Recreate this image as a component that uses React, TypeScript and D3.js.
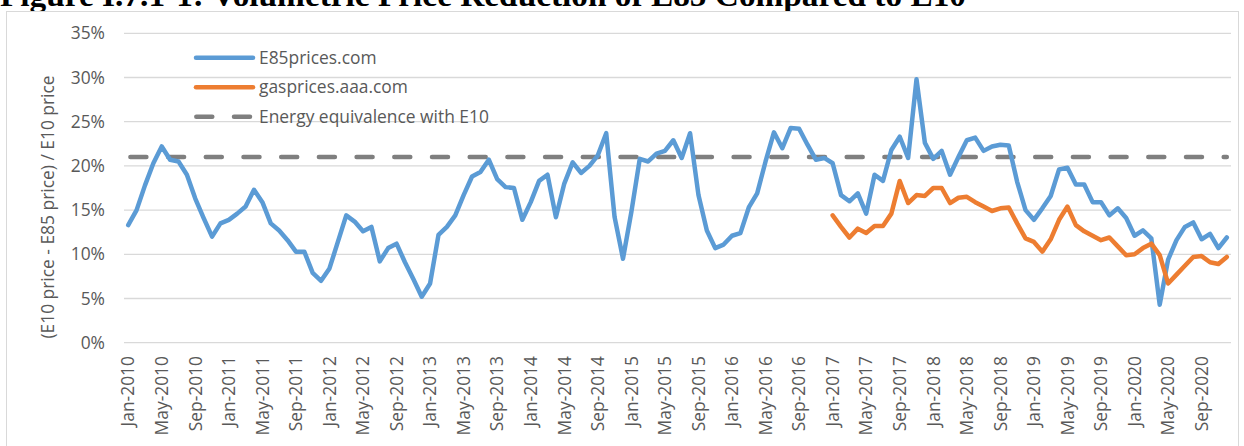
import React, { useEffect, useRef } from "react";
import * as d3 from "d3";

// monthly categories Jan-2010 .. Dec-2020
const months: Date[] = d3.timeMonths(new Date(2010, 0, 1), new Date(2021, 0, 1));

// E85prices.com, % per month from Jan-2010
const e85Values = [
  13.3, 15.0, 17.8, 20.3, 22.2, 20.7, 20.5, 19.0, 16.3, 14.1, 12.0, 13.5,
  13.9, 14.6, 15.4, 17.3, 15.9, 13.5, 12.7, 11.6, 10.3, 10.3, 7.9, 7.0,
  8.4, 11.4, 14.4, 13.7, 12.6, 13.1, 9.2, 10.7, 11.2, 9.1, 7.2, 5.2,
  6.7, 12.2, 13.1, 14.4, 16.7, 18.8, 19.3, 20.7, 18.5, 17.6, 17.5, 13.9,
  15.9, 18.3, 19.0, 14.2, 18.0, 20.4, 19.2, 20.0, 21.2, 23.7, 14.2, 9.5,
  14.8, 20.8, 20.5, 21.4, 21.7, 22.9, 20.9, 23.7, 16.7, 12.7, 10.7, 11.1,
  12.1, 12.4, 15.3, 16.9, 20.5, 23.8, 22.0, 24.3, 24.2, 22.4, 20.7, 20.9,
  20.3, 16.7, 16.0, 16.9, 14.6, 19.0, 18.3, 21.8, 23.3, 20.9, 29.8, 22.6,
  20.8, 21.7, 19.0, 21.0, 22.9, 23.2, 21.7, 22.2, 22.4, 22.3, 18.2, 15.0,
  13.9, 15.2, 16.6, 19.6, 19.8, 17.9, 17.9, 15.9, 15.9, 14.4, 15.2, 14.1,
  12.1, 12.7, 11.8, 4.3, 9.4, 11.6, 13.1, 13.6, 11.7, 12.3, 10.7, 11.9,
];

// gasprices.aaa.com, % per month from Jan-2017
const aaaStart = new Date(2017, 0, 1);
const aaaValues = [
  14.4, 13.1, 11.9, 12.9, 12.4, 13.2, 13.2, 14.6, 18.3, 15.8, 16.7, 16.6,
  17.5, 17.5, 15.8, 16.4, 16.5, 15.9, 15.4, 14.9, 15.2, 15.3, 13.5, 11.8,
  11.4, 10.3, 11.7, 13.9, 15.4, 13.3, 12.6, 12.1, 11.6, 11.9, 10.9, 9.9,
  10.0, 10.7, 11.2, 9.9, 6.7, 7.7, 8.7, 9.7, 9.8, 9.1, 8.9, 9.7,
];

const energyEquivalence = 21;

const yTicks = [0, 5, 10, 15, 20, 25, 30, 35];

const seriesNames = ["E85prices.com", "gasprices.aaa.com", "Energy equivalence with E10"];

const W = 1244;
const H = 446;
const FONT = "'Open Sans', sans-serif";
const TEXT = "#595959";

export default function App() {
  const ref = useRef<SVGSVGElement>(null);

  useEffect(() => {
    const svg = d3.select(ref.current);
    svg.selectAll("*").remove();

    const fmt = d3.timeFormat("%b-%Y");
    const cats = months.map(fmt);

    const x = d3.scaleBand<string>().domain(cats).range([124, 1231]);
    const cx = (d: Date) => (x(fmt(d)) as number) + x.bandwidth() / 2;
    const y = d3.scaleLinear().domain([0, 35]).range([342.7, 33.3]);

    // title (cut at the top in the source)
    svg.append("text")
      .attr("x", 0)
      .attr("y", 6)
      .attr("textLength", 966)
      .attr("lengthAdjust", "spacingAndGlyphs")
      .style("font-family", "'Liberation Serif', serif")
      .style("font-weight", "bold")
      .style("font-size", "31px")
      .text("Figure I.7.1-1: Volumetric Price Reduction of E85 Compared to E10");

    // chart border
    svg.append("rect")
      .attr("x", 6.5).attr("y", 11.5)
      .attr("width", 1232).attr("height", 450)
      .attr("fill", "#fff")
      .attr("stroke", "#d9d9d9");

    // gridlines + y labels
    svg.append("g").selectAll("line").data(yTicks).join("line")
      .attr("x1", 124).attr("x2", 1231)
      .attr("y1", d => y(d)).attr("y2", d => y(d))
      .attr("stroke", "#d9d9d9").attr("stroke-width", 1.3);

    svg.append("g").selectAll("text").data(yTicks).join("text")
      .attr("x", 105).attr("y", d => y(d))
      .attr("dy", "0.35em")
      .attr("text-anchor", "end")
      .style("font-family", FONT).style("font-size", "17.4px").style("fill", TEXT)
      .text(d => d + "%");

    // x labels every 4 months
    const tickMonths = months.filter((_, i) => i % 4 === 0);
    svg.append("g").selectAll("text").data(tickMonths).join("text")
      .attr("transform", d => `translate(${cx(d)},356) rotate(-90)`)
      .attr("dy", "0.36em")
      .attr("text-anchor", "end")
      .style("font-family", FONT).style("font-size", "17.4px").style("fill", TEXT)
      .text(d => fmt(d));

    // y axis title
    svg.append("text")
      .attr("transform", "translate(48,207) rotate(-90)")
      .attr("dy", "0.35em")
      .attr("text-anchor", "middle")
      .style("font-family", FONT).style("font-size", "17.4px").style("fill", TEXT)
      .text("(E10 price - E85 price) / E10 price");

    const line = d3.line<{ d: Date; v: number }>()
      .x(p => cx(p.d))
      .y(p => y(p.v));

    const equiv = months.map(d => ({ d, v: energyEquivalence }));
    svg.append("path")
      .datum(equiv)
      .attr("d", line)
      .attr("fill", "none")
      .attr("stroke", "#7f7f7f")
      .attr("stroke-width", 4.5)
      .attr("stroke-linecap", "round")
      .attr("stroke-dasharray", "16 21.7")
      .attr("stroke-dashoffset", -2.2);

    const e85 = months.map((d, i) => ({ d, v: e85Values[i] }));
    svg.append("path")
      .datum(e85)
      .attr("d", line)
      .attr("fill", "none")
      .attr("stroke", "#5b9bd5")
      .attr("stroke-width", 4.5)
      .attr("stroke-linejoin", "round")
      .attr("stroke-linecap", "round");

    const aaa = aaaValues.map((v, i) => ({ d: d3.timeMonth.offset(aaaStart, i), v }));
    svg.append("path")
      .datum(aaa)
      .attr("d", line)
      .attr("fill", "none")
      .attr("stroke", "#ed7d31")
      .attr("stroke-width", 4.5)
      .attr("stroke-linejoin", "round")
      .attr("stroke-linecap", "round");

    // legend
    const colors = ["#5b9bd5", "#ed7d31", "#7f7f7f"];
    const lg = svg.append("g");
    seriesNames.forEach((name, i) => {
      const ly = 57.7 + i * 29.5;
      const l = lg.append("line")
        .attr("x1", 196).attr("x2", 253)
        .attr("y1", ly).attr("y2", ly)
        .attr("stroke", colors[i])
        .attr("stroke-width", 4.5)
        .attr("stroke-linecap", "round");
      if (i === 2) l.attr("stroke-dasharray", "16 21.7").attr("stroke-dashoffset", -0.3);
      lg.append("text")
        .attr("x", 259).attr("y", ly)
        .attr("dy", "0.35em")
        .style("font-family", FONT).style("font-size", "17.4px").style("fill", TEXT)
        .text(name);
    });
  }, []);

  return (
    <svg
      ref={ref}
      width={W}
      height={H}
      style={{ position: "absolute", left: 0, top: 0, background: "#fff" }}
    />
  );
}
